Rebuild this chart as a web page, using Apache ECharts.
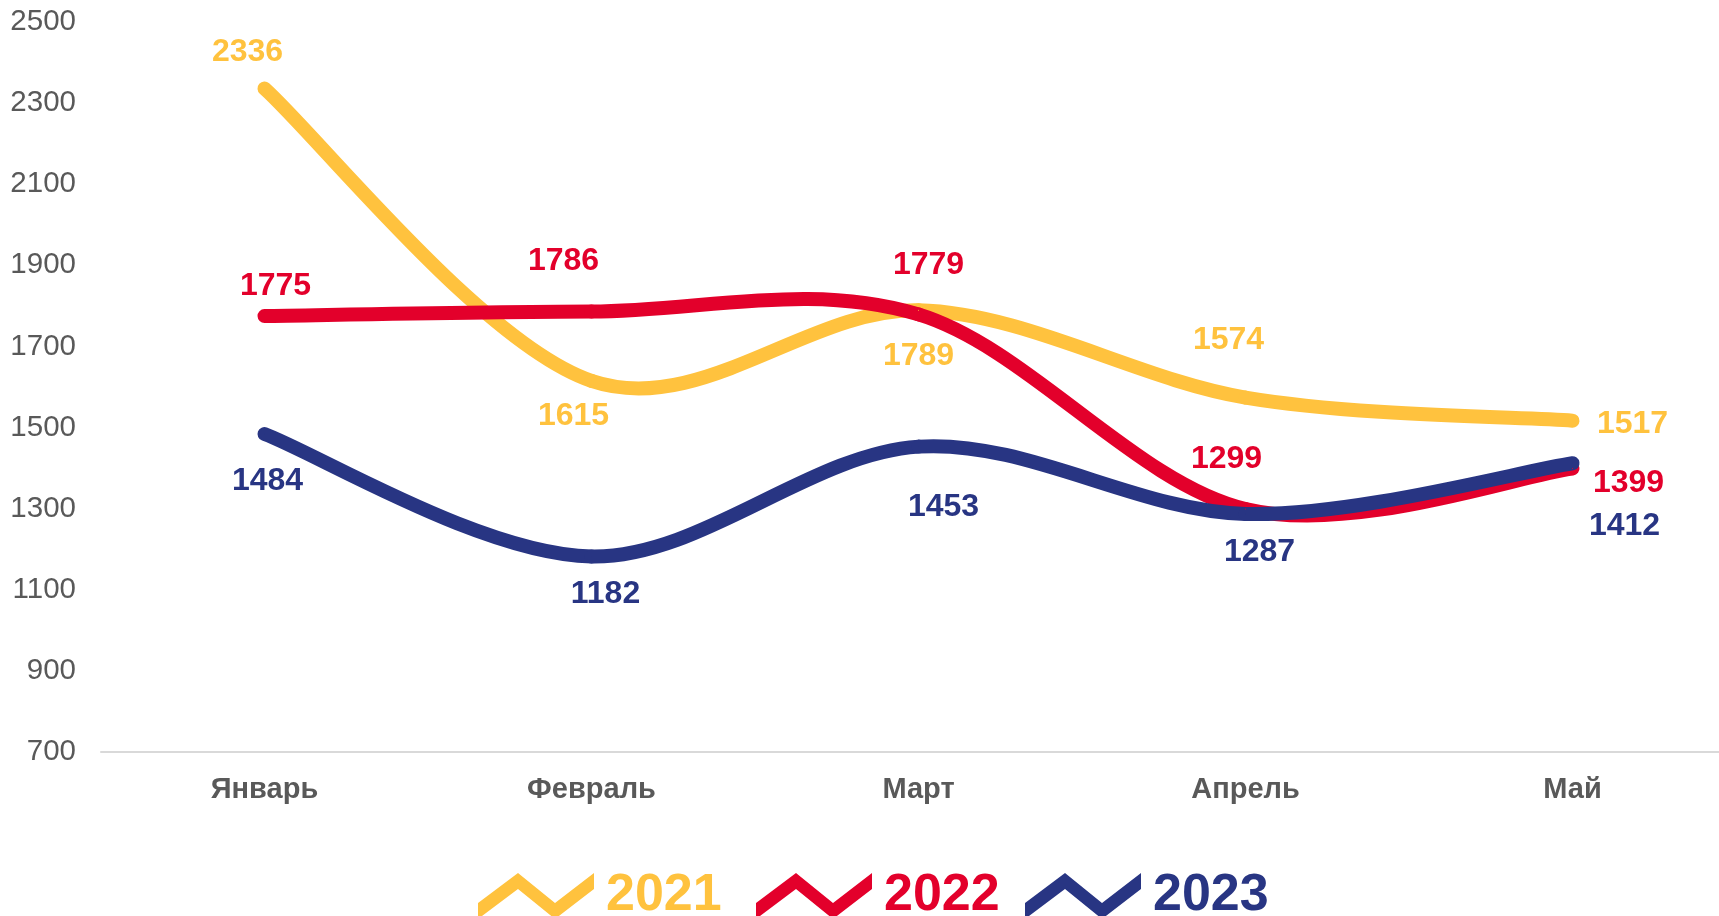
<!DOCTYPE html>
<html>
<head>
<meta charset="utf-8">
<script src="https://cdn.jsdelivr.net/npm/echarts@6/dist/echarts.min.js"></script>
<style>
  html, body { margin: 0; padding: 0; background: #fff; }
  #chart { width: 1719px; height: 916px; }
</style>
</head>
<body>
<div id="chart"></div>
<script>
// data
const months = ['Январь', 'Февраль', 'Март', 'Апрель', 'Май'];
const years = ['2021', '2022', '2023'];
const values2021 = [2336, 1615, 1789, 1574, 1517];
const values2022 = [1775, 1786, 1779, 1299, 1399];
const values2023 = [1484, 1182, 1453, 1287, 1412];
const yTicks = [700, 2500, 200]; // min, max, step

// where each value label sits relative to its point (px)
const labelOffsets = [
  [[-17, -36], [-18, 35], [0, 46], [-17, -57], [60, 4]],
  [[11, -30], [-28, -50], [10, -49], [-19, -50], [56, 15]],
  [[3, 47], [14, 38], [25, 61], [14, 38], [52, 63]]
];
const colors = ['#FFC23E', '#E3002B', '#283583'];
const legendLeft = [478, 756, 1025];
const lineW = 14;

const legendIcon = 'path://M0,30 L40,0 L77,30 L116,0 L116,16 L77,46 L40,16 L0,46 Z';

// Excel-style smoothed line: one bezier piece per segment, control points
// taken from the neighbouring points (Catmull-Rom, 1/6)
function smoothSeries(name, values, idx) {
  return {
    name: name,
    type: 'custom',
    color: colors[idx],
    itemStyle: { color: colors[idx] },
    clip: false,
    silent: true,
    data: values.map((v, i) => [i, v]),
    renderItem: function (params, api) {
      const i = params.dataIndexInside;
      const n = params.dataInsideLength;
      if (i >= n - 1) return null;
      const pt = k => api.coord([api.value(0, k), api.value(1, k)]);
      const p0 = pt(Math.max(i - 1, 0));
      const p1 = pt(i);
      const p2 = pt(i + 1);
      const p3 = pt(Math.min(i + 2, n - 1));
      return {
        type: 'bezierCurve',
        shape: {
          x1: p1[0], y1: p1[1],
          x2: p2[0], y2: p2[1],
          cpx1: p1[0] + (p2[0] - p0[0]) / 6,
          cpy1: p1[1] + (p2[1] - p0[1]) / 6,
          cpx2: p2[0] - (p3[0] - p1[0]) / 6,
          cpy2: p2[1] - (p3[1] - p1[1]) / 6
        },
        style: { fill: 'none', stroke: colors[idx], lineWidth: lineW, lineCap: 'round' }
      };
    }
  };
}

// invisible line series that only carries the value labels
function labelSeries(name, values, idx) {
  return {
    name: name,
    type: 'line',
    symbol: 'circle',
    symbolSize: 1,
    showSymbol: true,
    color: colors[idx],
    lineStyle: { width: 0, opacity: 0 },
    itemStyle: { color: colors[idx], borderWidth: 0 },
    z: 5,
    label: {
      show: true,
      position: 'inside',
      color: colors[idx],
      fontFamily: 'Liberation Sans',
      fontWeight: 'bold',
      fontSize: 32
    },
    emphasis: { disabled: true },
    data: values.map((v, i) => ({ value: v, label: { offset: labelOffsets[idx][i] } }))
  };
}

// one legend per year so each can sit where it does in the picture
const legends = years.map((y, i) => ({
  data: [y],
  left: legendLeft[i],
  top: 870,
  padding: 0,
  icon: legendIcon,
  itemWidth: 116,
  itemHeight: 46,
  itemStyle: { borderWidth: 0 },
  selectedMode: false,
  textStyle: {
    fontSize: 52,
    fontWeight: 'bold',
    color: 'inherit',
    padding: [0, 0, 0, 7]
  }
}));

const chart = echarts.init(document.getElementById('chart'));
chart.setOption({
  animation: false,
  textStyle: { fontFamily: 'Liberation Sans' },
  grid: { left: 101, top: 22, width: 1635, height: 730, containLabel: false, outerBoundsMode: 'none' },
  xAxis: {
    type: 'category',
    data: months,
    boundaryGap: true,
    axisLine: { lineStyle: { color: '#D9D9D9', width: 2 } },
    axisTick: { show: false },
    axisLabel: { color: '#595959', fontSize: 29, fontWeight: 'bold', margin: 23 }
  },
  yAxis: {
    type: 'value',
    min: yTicks[0],
    max: yTicks[1],
    interval: yTicks[2],
    splitLine: { show: false },
    axisLine: { show: false },
    axisTick: { show: false },
    axisLabel: { color: '#595959', fontSize: 29.5, margin: 25, formatter: v => String(v) }
  },
  legend: legends,
  series: [
    smoothSeries(years[0], values2021, 0),
    smoothSeries(years[1], values2022, 1),
    smoothSeries(years[2], values2023, 2),
    labelSeries(years[0], values2021, 0),
    labelSeries(years[1], values2022, 1),
    labelSeries(years[2], values2023, 2)
  ]
});
</script>
</body>
</html>
